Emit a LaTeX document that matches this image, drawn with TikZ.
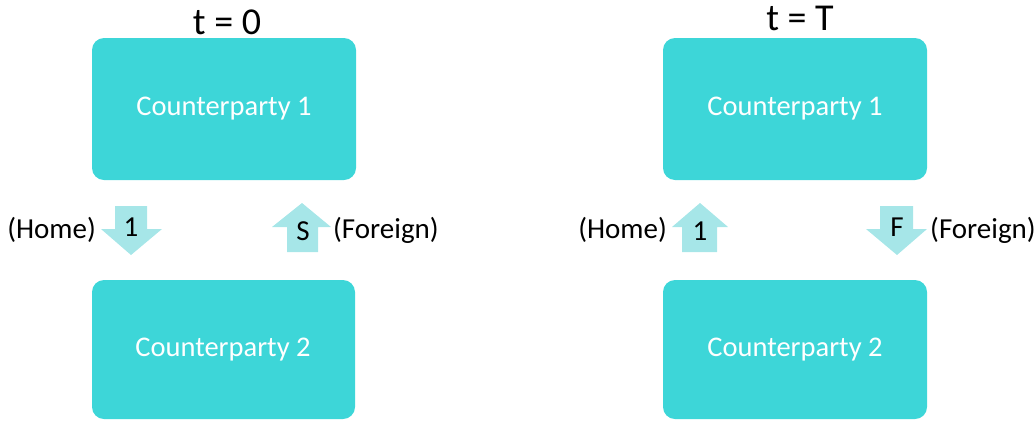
\documentclass[tikz,border=0pt]{standalone}
\usepackage{fontspec}
\setmainfont{Carlito}
\definecolor{boxc}{HTML}{3DD6D8}
\definecolor{arrc}{HTML}{A6E6E8}
\begin{document}
\begin{tikzpicture}[x=1pt,y=-1pt,
  cpbox/.style={fill=boxc, rounded corners=12pt},
  cptext/.style={text=white, font=\fontsize{28.5}{32}\selectfont, inner sep=0pt},
  lbl/.style={font=\fontsize{29}{33}\selectfont, text=black, inner sep=0pt},
  ttl/.style={font=\fontsize{38}{42}\selectfont, text=black, inner sep=0pt}]
\useasboundingbox (0,0) rectangle (1035,421);
% boxes
\fill[cpbox] (92,38) rectangle (356,180);
\node[cptext] (a1) at (224,109) {Counterparty 1};
\fill[cpbox] (92,280) rectangle (355,419);
\node[cptext] (a2) at (223,350) {Counterparty 2};
\fill[cpbox] (663,38) rectangle (927,180);
\node[cptext] (b1) at (795,109) {Counterparty 1};
\fill[cpbox] (663,280) rectangle (927,419);
\node[cptext] (b2) at (795,350) {Counterparty 2};
% titles
\node[ttl] (t0) at (227,22) {t = 0};
\node[ttl] (tT) at (800,18) {t = T};
% left down arrow (1)
\fill[arrc] (115,206) -- (147,206) -- (147,229) -- (162,229) -- (131,255) -- (101,229) -- (115,229) -- cycle;
\node[lbl] (n1) at (131,227) {1};
% left up arrow (S)
\fill[arrc] (287,252) -- (318,252) -- (318,227) -- (331,227) -- (302,203) -- (272,227) -- (287,227) -- cycle;
\node[lbl] (nS) at (303,231) {S};
\node[lbl, anchor=west] (hf1) at (333,230) {(Foreign)};
\node[lbl, anchor=east] (hh1) at (96,230) {(Home)};
% right up arrow (1)
\fill[arrc] (682,252) -- (717,252) -- (717,227) -- (728,227) -- (700,203) -- (672,227) -- (682,227) -- cycle;
\node[lbl] (m1) at (700,231) {1};
% right down arrow (F)
\fill[arrc] (880,206) -- (913,206) -- (913,229) -- (927,229) -- (897,255) -- (866,229) -- (880,229) -- cycle;
\node[lbl] (mF) at (897,227) {F};
\node[lbl, anchor=west] (hf2) at (930,230) {(Foreign)};
\node[lbl, anchor=east] (hh2) at (667,230) {(Home)};
\end{tikzpicture}
\end{document}
